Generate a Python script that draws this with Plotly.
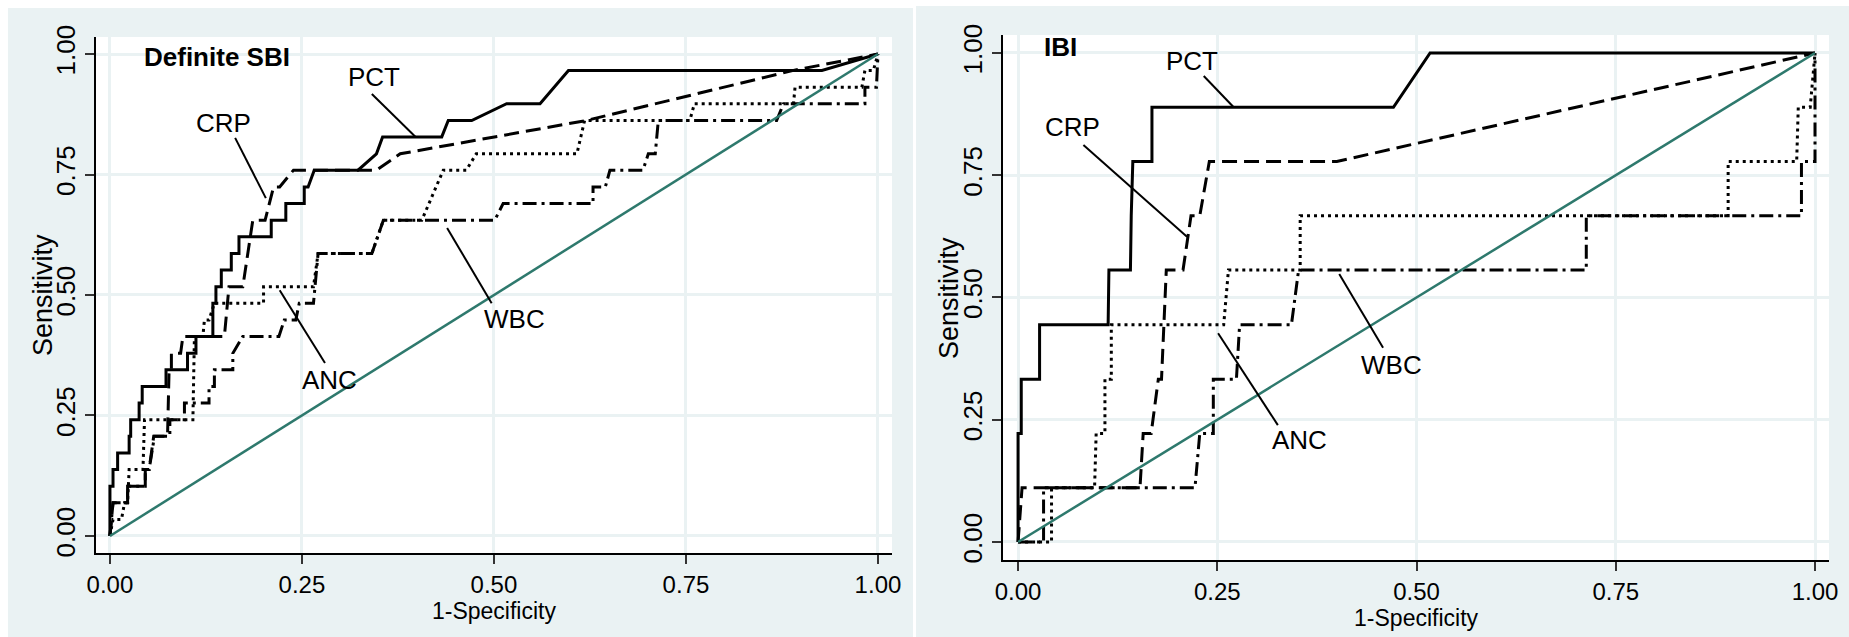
import plotly.graph_objects as go

# ROC points: (1-specificity, sensitivity)
# left panel: definite SBI
pct_sbi = [(0, 0), (0, .103), (.004, .103), (.004, .138), (.010, .138), (.010, .172),
           (.025, .172), (.025, .207), (.027, .207), (.027, .241), (.038, .241), (.038, .276),
           (.042, .276), (.042, .310), (.073, .310), (.073, .345), (.101, .345), (.101, .379),
           (.112, .379), (.112, .414), (.134, .414), (.134, .483), (.138, .483), (.138, .517),
           (.145, .517), (.145, .552), (.158, .552), (.158, .586), (.168, .586), (.168, .621),
           (.210, .621), (.210, .655), (.229, .655), (.229, .690), (.253, .690), (.253, .724),
           (.258, .724), (.266, .759), (.323, .759), (.347, .793), (.355, .828), (.432, .828),
           (.4405, .862), (.471, .862), (.5165, .897), (.560, .897), (.597, .966), (.927, .966),
           (1, 1)]
crp_sbi = [(0, 0), (.002, .034), (.004, .069), (.023, .069), (.023, .103), (.046, .103),
           (.046, .138), (.051, .138), (.057, .207), (.075, .207), (.077, .345), (.080, .345),
           (.080, .379), (.092, .379), (.095, .414), (.149, .414), (.155, .517), (.173, .517),
           (.186, .655), (.202, .655), (.213, .724), (.221, .724), (.239, .759), (.347, .759),
           (.378, .793), (.620, .862), (.890, .966), (1, 1)]
anc_sbi = [(0, 0), (.004, .034), (.015, .034), (.019, .069), (.023, .069), (.025, .138),
           (.043, .138), (.045, .241), (.108, .241), (.110, .414), (.121, .414), (.123, .448),
           (.129, .448), (.136, .483), (.200, .483), (.200, .517), (.265, .517), (.271, .586),
           (.341, .586), (.356, .655), (.406, .655), (.434, .759), (.464, .759), (.477, .793),
           (.608, .793), (.618, .862), (.755, .862), (.761, .897), (.890, .897), (.892, .931),
           (.979, .931), (.983, .966), (.994, .966), (1, 1)]
wbc_sbi = [(0, 0), (.002, .034), (.004, .069), (.023, .069), (.023, .103), (.046, .103),
           (.046, .138), (.051, .138), (.058, .207), (.078, .207), (.078, .241), (.097, .241),
           (.097, .276), (.129, .276), (.129, .310), (.136, .310), (.136, .345), (.160, .345),
           (.160, .379), (.173, .414), (.220, .414), (.227, .448), (.242, .448), (.2465, .483),
           (.265, .483), (.271, .586), (.341, .586), (.356, .655), (.501, .655), (.512, .690),
           (.629, .690), (.629, .724), (.645, .724), (.651, .759), (.694, .759), (.701, .793),
           (.710, .793), (.714, .862), (.868, .862), (.877, .897), (.983, .897), (.983, .931),
           (.998, .931), (1, 1)]

# right panel: IBI
pct_ibi = [(0, 0), (0, .222), (.004, .222), (.004, .333), (.027, .333), (.027, .444),
           (.113, .444), (.114, .556), (.141, .556), (.142, .667), (.144, .778), (.168, .778),
           (.168, .889), (.471, .889), (.517, 1), (1, 1)]
crp_ibi = [(0, 0), (.005, .111), (.153, .111), (.157, .222), (.167, .222), (.176, .333),
           (.180, .333), (.186, .556), (.207, .556), (.217, .667), (.228, .667), (.240, .778),
           (.400, .778), (1, 1)]
anc_ibi = [(0, 0), (.042, 0), (.042, .111), (.096, .111), (.098, .222), (.109, .222),
           (.109, .333), (.117, .333), (.117, .444), (.258, .444), (.264, .556), (.354, .556),
           (.354, .667), (.891, .667), (.891, .778), (.977, .778), (.979, .889), (.994, .889),
           (1, 1)]
wbc_ibi = [(0, 0), (.032, 0), (.032, .111), (.222, .111), (.228, .222), (.245, .222),
           (.245, .333), (.274, .333), (.278, .444), (.343, .444), (.352, .556), (.713, .556),
           (.713, .667), (.983, .667), (.983, .778), (1, .778), (1, 1)]

reference = [(0, 0), (1, 1)]

tick_vals = [0, 0.25, 0.5, 0.75, 1]
tick_text = ['0.00', '0.25', '0.50', '0.75', '1.00']

# curve labels: name, text position, leader line start/end
labels_sbi = [('PCT', (.344, .952), (.341, .917), (.398, .828)),
              ('CRP', (.148, .857), (.163, .826), (.203, .701)),
              ('ANC', (.286, .324), (.221, .510), (.280, .359)),
              ('WBC', (.527, .450), (.439, .639), (.497, .483))]
labels_ibi = [('PCT', (.218, .984), (.233, .953), (.270, .890)),
              ('CRP', (.068, .849), (.082, .812), (.212, .624)),
              ('ANC', (.353, .209), (.251, .427), (.326, .239)),
              ('WBC', (.469, .362), (.403, .548), (.458, .397))]

FONT = 'Liberation Sans, Arial, sans-serif'
BG = '#EAF2F3'
styles = {'PCT': 'solid', 'CRP': '15px,7px', 'ANC': '3px,4px', 'WBC': '14px,5px,3px,5px'}

fig = go.Figure()


def add_panel(curves, xa, ya):
    for name, pts in curves:
        fig.add_trace(go.Scatter(
            x=[p[0] for p in pts], y=[p[1] for p in pts], mode='lines',
            line=dict(color='black', width=3, dash=styles[name]),
            xaxis=xa, yaxis=ya, showlegend=False, hoverinfo='skip'))
    fig.add_trace(go.Scatter(
        x=[p[0] for p in reference], y=[p[1] for p in reference], mode='lines',
        line=dict(color='#2e796d', width=2.5), xaxis=xa, yaxis=ya,
        showlegend=False, hoverinfo='skip'))


add_panel([('WBC', wbc_sbi), ('ANC', anc_sbi), ('CRP', crp_sbi), ('PCT', pct_sbi)], 'x', 'y')
add_panel([('WBC', wbc_ibi), ('ANC', anc_ibi), ('CRP', crp_ibi), ('PCT', pct_ibi)], 'x2', 'y2')

# white page strips around the two grey graph regions
shapes = []
for x0, x1, y0, y1 in [(0, 0.0043, 0, 1), (0, 0.4954, 0.9874, 1),
                       (0.4938, 0.4954, 0, 1), (0.4954, 1, 0.9906, 1)]:
    shapes.append(dict(type='rect', xref='paper', yref='paper', x0=x0, x1=x1, y0=y0, y1=y1,
                       fillcolor='white', line_width=0, layer='below'))

annotations = []
for labels, xr, yr in [(labels_sbi, 'x', 'y'), (labels_ibi, 'x2', 'y2')]:
    for name, (tx, ty), (x0, y0), (x1, y1) in labels:
        shapes.append(dict(type='line', xref=xr, yref=yr, x0=x0, y0=y0, x1=x1, y1=y1,
                           line=dict(color='black', width=2)))
        annotations.append(dict(x=tx, y=ty, xref=xr, yref=yr, text=name, showarrow=False,
                                font=dict(family=FONT, size=26, color='black')))

annotations.append(dict(x=0.042, y=0.994, xref='x', yref='y', text='<b>Definite SBI</b>',
                        showarrow=False, xanchor='left',
                        font=dict(family=FONT, size=26, color='black')))
annotations.append(dict(x=0.030, y=1.012, xref='x2', yref='y2', text='<b>IBI</b>',
                        showarrow=False, xanchor='left',
                        font=dict(family=FONT, size=26, color='black')))

# y-axis titles, placed as in the original (close to the tick labels)
for px, py in [(0.0233, 0.5369), (0.5133, 0.5322)]:
    annotations.append(dict(x=px, y=py, xref='paper', yref='paper', text='Sensitivity',
                            textangle=-90, showarrow=False, xanchor='center', yanchor='middle',
                            font=dict(family=FONT, size=27, color='black')))

common = dict(tickvals=tick_vals, ticktext=tick_text, showline=True, linecolor='black',
              linewidth=1.5, ticks='outside', ticklen=9, tickwidth=1.5, tickcolor='#333',
              showgrid=True, gridcolor=BG, gridwidth=2.5, zeroline=False, automargin=False)
xfont = dict(family=FONT, size=24, color='black')
yfont = dict(family=FONT, size=26, color='black')
xtitle = dict(text='1-Specificity', font=dict(family=FONT, size=23, color='black'), standoff=2)

fig.update_layout(
    width=1849, height=637,
    margin=dict(l=0, r=0, t=0, b=0),
    paper_bgcolor=BG, plot_bgcolor='white',
    shapes=shapes, annotations=annotations,
    xaxis=dict(domain=[0.0519, 0.4824], range=[-0.0182, 1.0182], anchor='y',
               title=xtitle, tickfont=xfont, **common),
    yaxis=dict(domain=[0.1319, 0.9419], range=[-0.0353, 1.0353], anchor='x', tickangle=-90,
               tickfont=yfont, **common),
    xaxis2=dict(domain=[0.5425, 0.9892], range=[-0.0188, 1.0176], anchor='y2',
                title=xtitle, tickfont=xfont, **common),
    yaxis2=dict(domain=[0.1209, 0.9451], range=[-0.0368, 1.0368], anchor='x2', tickangle=-90,
                tickfont=yfont, **common),
)

fig.write_html('out.html', config={'displayModeBar': False},
               post_script="document.body.style.margin='0';")
